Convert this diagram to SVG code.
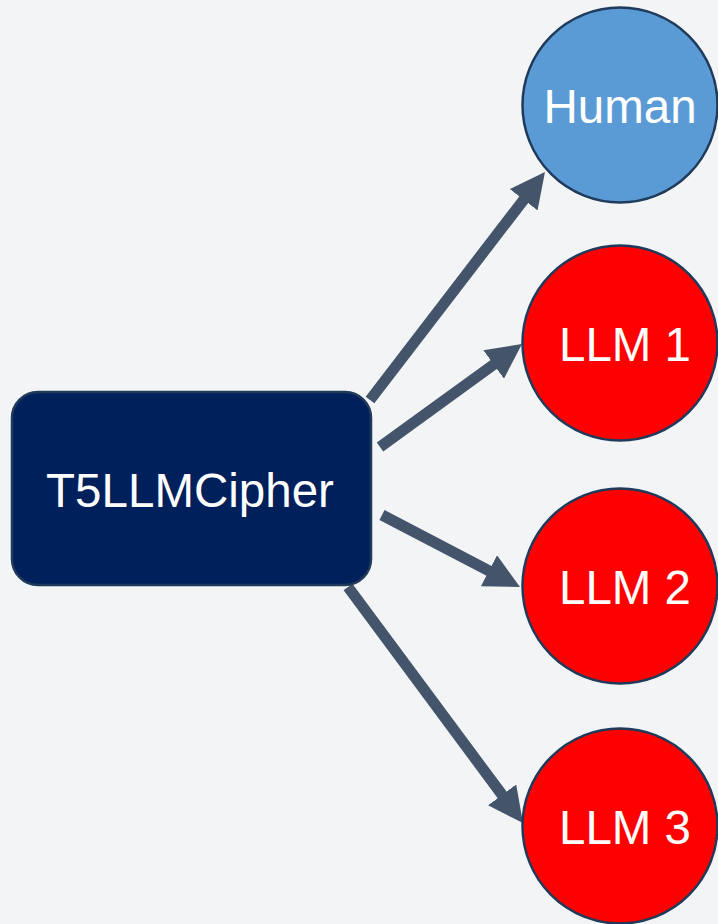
<svg xmlns="http://www.w3.org/2000/svg" width="718" height="924" viewBox="0 0 718 924">
  <style>
    .label { font-family: "Liberation Sans", Arial, sans-serif; font-size: 47.5px; fill: #ffffff; text-anchor: middle; }
    .edge { stroke: #44546A; stroke-width: 11; fill: none; marker-end: url(#head); }
    .llm { fill: #FF0000; stroke: #1F3A5A; stroke-width: 2.5; }
  </style>
  <defs>
    <marker id="head" markerUnits="userSpaceOnUse" markerWidth="35" markerHeight="35" refX="5" refY="17.5" orient="auto">
      <path d="M0,0 L35,17.5 L0,35 z" fill="#44546A"/>
    </marker>
  </defs>

  <rect width="718" height="924" fill="#F2F4F6"/>

  <!-- connectors from the cipher box to each recipient -->
  <g id="connectors">
    <line class="edge" x1="370" y1="400" x2="526.7" y2="195.8"/>
    <line class="edge" x1="380" y1="447" x2="497.7" y2="361.6"/>
    <line class="edge" x1="382" y1="515" x2="493.4" y2="573.1"/>
    <line class="edge" x1="348" y1="587" x2="505.1" y2="798.9"/>
  </g>

  <g id="t5llmcipher">
    <rect x="12" y="392" width="359" height="193" rx="26" fill="#00205B" stroke="#1F3A5A" stroke-width="2.5"/>
    <text class="label" x="190" y="507">T5LLMCipher</text>
  </g>

  <g id="human">
    <circle cx="620" cy="105" r="97.5" fill="#5B9BD5" stroke="#1F3A5A" stroke-width="2.5"/>
    <text class="label" x="620" y="123">Human</text>
  </g>

  <g id="llm1">
    <circle class="llm" cx="620" cy="343" r="97.5"/>
    <text class="label" x="625" y="361">LLM 1</text>
  </g>

  <g id="llm2">
    <circle class="llm" cx="620" cy="586" r="97.5"/>
    <text class="label" x="625" y="604">LLM 2</text>
  </g>

  <g id="llm3">
    <circle class="llm" cx="620" cy="826" r="97.5"/>
    <text class="label" x="625" y="844">LLM 3</text>
  </g>
</svg>
